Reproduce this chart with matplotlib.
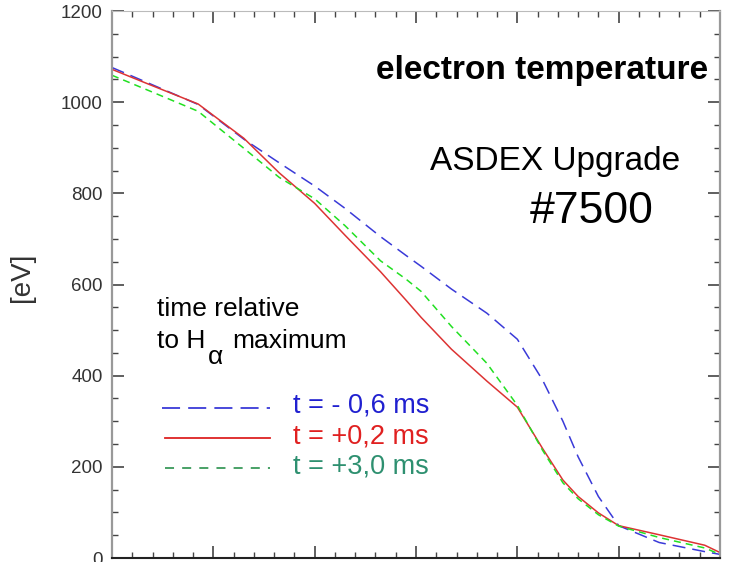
import matplotlib
matplotlib.use("Agg")
import matplotlib.pyplot as plt
from matplotlib.ticker import MultipleLocator

plt.rcParams['font.family'] = ['Liberation Sans', 'DejaVu Sans']

# radial position (arbitrary units, no labels in the original)
radius = [0, 0.4, 0.85, 1.3, 1.65, 2.0, 2.3, 2.65, 2.9, 3.05, 3.35, 3.7, 4.0,
          4.25, 4.45, 4.6, 4.8, 5.0, 5.4, 5.85, 6.0]
te_minus06 = [1076, 1038, 995, 919, 867, 816, 767, 705, 664, 640, 590, 537, 480,
              390, 300, 222, 135, 71, 34, 14, 8]
te_plus02 = [1072, 1036, 996, 921, 845, 778, 708, 628, 566, 528, 458, 388, 331,
             240, 171, 135, 99, 71, 51, 28, 12]
te_plus30 = [1059, 1022, 980, 899, 835, 788, 729, 652, 612, 585, 508, 427, 335,
             236, 165, 130, 95, 70, 45, 22, 8]
labels = ["t = - 0,6 ms", "t = +0,2 ms", "t = +3,0 ms"]

fig = plt.figure(figsize=(7.34, 5.62), dpi=100)
ax = fig.add_axes([0.1526, 0.0071, 0.8283, 0.9733])

ax.plot(radius, te_minus06, color='#3a3ad8', lw=1.1, dashes=(8.5, 4.6))
ax.plot(radius, te_plus02, color='#dd3333', lw=1.1)
ax.plot(radius, te_plus30, color='#22e022', lw=1.1, dashes=(4.6, 3.3))

ax.set_xlim(0, 6)
ax.set_ylim(0, 1200)
ax.xaxis.set_major_locator(MultipleLocator(1))
ax.xaxis.set_minor_locator(MultipleLocator(0.2))
ax.yaxis.set_major_locator(MultipleLocator(200))
ax.yaxis.set_minor_locator(MultipleLocator(50))
ax.tick_params(which='both', direction='in', top=True, right=True,
               labelbottom=False, colors='#444444', labelcolor='#333333',
               labelsize=13.5, pad=6.5)
ax.tick_params(which='major', length=8.5, width=1.2)
ax.tick_params(which='minor', length=4.5, width=1.0)
for side in ['left', 'right']:
    ax.spines[side].set_color('#999999')
    ax.spines[side].set_linewidth(1.6)
ax.spines['top'].set_color('#bbbbbb')
ax.spines['bottom'].set_color('#222222')
ax.spines['bottom'].set_linewidth(1.5)

ax.set_ylabel("[eV]", fontsize=20, color='#333333')
ax.yaxis.set_label_coords(-0.127, 0.513)

ax.text(0.980, 0.892, "electron temperature", transform=ax.transAxes,
        fontsize=24, fontweight='bold', ha='right', va='center')
ax.text(0.523, 0.724, "ASDEX Upgrade", transform=ax.transAxes,
        fontsize=24, ha='left', va='center')
ax.text(0.6875, 0.633, "#7500", transform=ax.transAxes,
        fontsize=32, ha='left', va='center')
ax.text(0.074, 0.455, "time relative", transform=ax.transAxes,
        fontsize=19, ha='left', va='center')
ax.text(0.074, 0.397, "to H", transform=ax.transAxes,
        fontsize=19, ha='left', va='center')
ax.text(0.157, 0.368, "α", transform=ax.transAxes,
        fontsize=19, ha='left', va='center')
ax.text(0.197, 0.397, "maximum", transform=ax.transAxes,
        fontsize=19, ha='left', va='center')

# hand-drawn key, as in the original
key_colors = ['#3a3ad8', '#dd2222', '#3a9a5a']
text_colors = ['#2020d0', '#e02020', '#2e9070']
key_dashes = [(10, 4.5), None, (5, 4.5)]
key_y = [0.275, 0.219, 0.164]
key_x0 = [0.0822, 0.0872, 0.0872]
for i in range(3):
    if key_dashes[i] is None:
        ax.plot([key_x0[i], 0.260], [key_y[i], key_y[i]], transform=ax.transAxes,
                color=key_colors[i], lw=1.3)
    else:
        ax.plot([key_x0[i], 0.260], [key_y[i], key_y[i]], transform=ax.transAxes,
                color=key_colors[i], lw=1.3, dashes=key_dashes[i])
    ax.text(0.298, key_y[i] + 0.004, labels[i], transform=ax.transAxes,
            fontsize=19.5, color=text_colors[i], ha='left', va='center')

plt.savefig("out.png", dpi=100)
